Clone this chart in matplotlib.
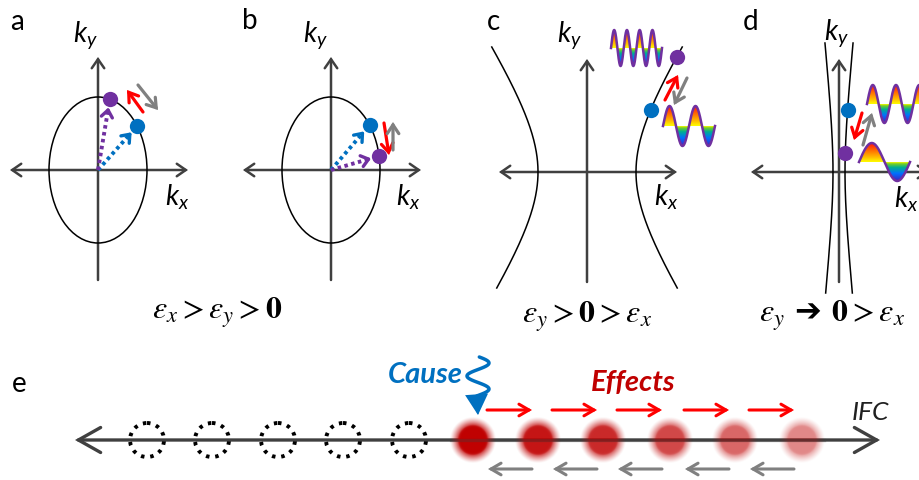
"""
Iso-frequency contours (a-d) and cause/effect sketch along the IFC (e).
Everything is drawn on one axes whose units are figure pixels.
"""
import numpy as np
import matplotlib.pyplot as plt
from matplotlib.patches import Ellipse, FancyArrowPatch, Polygon, Circle
from matplotlib.colors import LinearSegmentedColormap, to_rgb

plt.rcParams['mathtext.fontset'] = 'custom'
plt.rcParams['mathtext.it'] = 'Lato:italic'
plt.rcParams['mathtext.rm'] = 'Lato'

BLUE = '#0070C0'
PURPLE = '#7030A0'
RED = '#FF0000'
GRAY = '#808080'
AXIS = '#404040'
DARKRED = '#C00000'

# ---------------------------------------------------------------------
# Data: panels a-d (local coords: px from the k-space origin, y up)
# ---------------------------------------------------------------------
panel_labels = ['a', 'b', 'c', 'd']
label_x = [10, 242, 487, 743]
label_y = [30, 29, 30, 30]
origin_x = [98, 331, 587, 839]
origin_y = [170, 170, 172, 172]
ky_dx = [-13, -16, -18, -3]
ky_dy = [135, 135, 137, 139]
kx_dx = [79, 77, 79, 67]
kx_dy = [-27, -27, -25, -27]

ell_a, ell_b = 49, 73                 # ellipse semi-axes (a, b)
hyp_a = [49, 6]                       # hyperbolae (c, d)
hyp_b = [75, 61]
hyp_ymin = [-116, -121]
hyp_ymax = [125, 129]

dot_theta = [[37, 76], [38, 11]]      # blue, purple on the ellipse (deg)
dot_ky = [[62, 115], [62, 19]]        # blue, purple on the hyperbola

red_arrows = [(45, 58, 29, 80), (53, 47, 58, 15), (78, 72, 91, 97), (23, 59, 15, 32)]
gray_arrows = [(40, 85, 60, 60), (62, 20, 62, 48), (100, 94, 87, 67), (24, 27, 33, 59)]

wave_panel = [2, 2, 3, 3]
wave_x0 = [24, 76, 28, 20]
wave_yc = [124, 46, 68, 10]
wave_len = [51, 52, 58, 51]
wave_cyc = [4, 2, 2.5, 1]
wave_amp = [18, 20, 19, 19]

eps_text = [r'$\varepsilon_x > \varepsilon_y > \mathbf{0}$',
            r'$\varepsilon_y > \mathbf{0} > \varepsilon_x$',
            r'$\varepsilon_y$ ➔ $\mathbf{0} > \varepsilon_x$']
eps_x = [217, 587, 832]
eps_y = [319, 323, 322]

# ---------------------------------------------------------------------
# Data: panel e
# ---------------------------------------------------------------------
e_y = 440
line_x = (75, 880)
empty_x = [147, 212, 278, 343, 409]
effect_x = [473, 538, 603, 670, 735, 802]
effect_alpha = [1.0, 0.92, 0.84, 0.72, 0.6, 0.47]
forward_y = 410
back_y = 469

wave_cmap = LinearSegmentedColormap.from_list(
    'rb', [(0.0, '#4020c0'), (0.2, '#0070ff'), (0.36, '#00b090'),
           (0.46, '#80d020'), (0.5, '#ffff00'), (0.62, '#ffc000'),
           (0.8, '#ff7000'), (1.0, '#ff1010')])

fig = plt.figure(figsize=(9.2, 4.8), dpi=100)
ax = fig.add_axes([0, 0, 1, 1])


def g(i, x, y):
    return origin_x[i] + x, origin_y[i] - y


def arrow(p0, p1, style, ms, lw, color, z=5):
    ax.add_patch(FancyArrowPatch(p0, p1, arrowstyle=style, mutation_scale=ms,
                                 lw=lw, color=color, shrinkA=0, shrinkB=0,
                                 zorder=z, capstyle='round', joinstyle='miter'))


# ---------------------------------------------------------------------
# Panels a-d
# ---------------------------------------------------------------------
for i in range(4):
    ax.text(label_x[i], label_y[i], panel_labels[i], fontsize=20, family='Lato', va='baseline')
    arrow(g(i, -88, 0), g(i, 90, 0), '<->,head_length=0.65,head_width=0.45', 10, 1.8, AXIS, 2)
    arrow(g(i, 0, -110), g(i, 0, 113), '->,head_length=0.65,head_width=0.45', 10, 1.8, AXIS, 2)
    ax.text(*g(i, ky_dx[i], ky_dy[i]), r'$k_y$', fontsize=20, ha='center', va='center')
    ax.text(*g(i, kx_dx[i], kx_dy[i]), r'$k_x$', fontsize=20, ha='center', va='center')

# ellipses with dotted k-vectors
for i in range(2):
    ax.add_patch(Ellipse((origin_x[i], origin_y[i]), 2 * ell_a, 2 * ell_b,
                         fill=False, ec='black', lw=1.1, zorder=3))
    for th, col in zip(dot_theta[i], [BLUE, PURPLE]):
        dx, dy = ell_a * np.cos(np.radians(th)), ell_b * np.sin(np.radians(th))
        L = np.hypot(dx, dy)
        ux, uy = dx / L, dy / L
        tx, ty = ux * (L - 11), uy * (L - 11)
        x0, y0 = g(i, 0, 0)
        x1, y1 = g(i, tx, ty)
        ax.plot([x0, x1], [y0, y1], color=col, lw=2.8, ls=(0, (0.9, 0.9)),
                dash_capstyle='butt', zorder=4)
        for s in (1, -1):
            a = np.radians(38) * s
            bx = tx - 9 * (ux * np.cos(a) - uy * np.sin(a))
            by = ty - 9 * (ux * np.sin(a) + uy * np.cos(a))
            cx, cy = g(i, bx, by)
            ax.plot([cx, x1], [cy, y1], color=col, lw=2.4, solid_capstyle='round', zorder=4)
        ax.plot(*g(i, dx, dy), 'o', ms=11, color=col, mec='none', zorder=6)

# hyperbolae
for j in range(2):
    i = j + 2
    t = np.linspace(np.arcsinh(hyp_ymin[j] / hyp_b[j]), np.arcsinh(hyp_ymax[j] / hyp_b[j]), 200)
    for s in (1, -1):
        ax.plot(*g(i, s * hyp_a[j] * np.cosh(t), hyp_b[j] * np.sinh(t)),
                color='black', lw=1.1, zorder=3)
    for ky, col in zip(dot_ky[j], [BLUE, PURPLE]):
        kx = hyp_a[j] * np.cosh(np.arcsinh(ky / hyp_b[j]))
        ax.plot(*g(i, kx, ky), 'o', ms=11, color=col, mec='none', zorder=6)

for i in range(4):
    x0, y0, x1, y1 = red_arrows[i]
    arrow(g(i, x0, y0), g(i, x1, y1), '->,head_length=0.45,head_width=0.3', 14, 2.3, RED)
    x0, y0, x1, y1 = gray_arrows[i]
    arrow(g(i, x0, y0), g(i, x1, y1), '->,head_length=0.45,head_width=0.3', 14, 2.3, GRAY)

# rainbow wave icons
grad = np.linspace(0, 1, 256).reshape(-1, 1)
for k in range(len(wave_panel)):
    i = wave_panel[k]
    xs = np.linspace(0, wave_len[k], 300)
    ys = wave_amp[k] * np.sin(2 * np.pi * wave_cyc[k] * xs / wave_len[k])
    gx = origin_x[i] + wave_x0[k] + xs
    gy = origin_y[i] - (wave_yc[k] + ys)
    gyc = origin_y[i] - wave_yc[k]
    poly = Polygon(np.column_stack([np.r_[gx, gx[::-1]], np.r_[gy, np.full_like(gy, gyc)]]),
                   closed=True, fc='none', ec='none')
    ax.add_patch(poly)
    A = wave_amp[k]
    im = ax.imshow(grad, cmap=wave_cmap, aspect='auto', origin='lower',
                   extent=(gx[0], gx[-1], gyc + A, gyc - A), interpolation='bilinear', zorder=3)
    im.set_clip_path(poly)
    ax.plot(gx, gy, color=PURPLE, lw=1.8, zorder=4)

for k in range(3):
    ax.text(eps_x[k], eps_y[k], eps_text[k], ha='center', va='baseline', fontsize=23,
            family='DejaVu Sans', math_fontfamily='stix')

# ---------------------------------------------------------------------
# Panel e
# ---------------------------------------------------------------------
ax.text(12, 392, 'e', fontsize=20, family='Lato', va='baseline')
arrow((line_x[0], e_y), (line_x[1], e_y), '<->,head_length=0.8,head_width=0.45', 20, 2.4, AXIS, 3)

for cx in empty_x:
    ax.add_patch(Circle((cx, e_y), 17, fill=False, ec='black', lw=2.8,
                        ls=(0, (0.9, 1.5)), zorder=5))

R = 27
yy, xx = np.mgrid[-R:R:121j, -R:R:121j]
rr = np.hypot(xx, yy)
core = 1 / (1 + np.exp((rr - 16) / 0.7))
halo = 0.7 * np.clip(1 - (rr - 15.5) / 8, 0, 1) ** 1.3
blob = np.maximum(core, halo)
for cx, al in zip(effect_x, effect_alpha):
    rgba = np.zeros(blob.shape + (4,))
    rgba[..., :3] = to_rgb(DARKRED)
    rgba[..., 3] = blob * al
    ax.imshow(rgba, extent=(cx - R, cx + R, e_y + R, e_y - R), interpolation='bilinear', zorder=4)
ax.plot([effect_x[0] - 22, effect_x[-1] + 22], [e_y, e_y], color=AXIS, lw=2.4, alpha=0.35, zorder=5)

for cx in effect_x[:-1]:
    arrow((cx + 14, forward_y), (cx + 59, forward_y), '->,head_length=0.6,head_width=0.35', 12, 2.2, RED)
    arrow((cx + 59, back_y), (cx + 15, back_y), '->,head_length=0.6,head_width=0.35', 12, 2.2, GRAY)

sy = np.linspace(357, 396, 100)
sx = 478 + 11 * np.sin(2 * np.pi * (sy - 357) / 26 + 0.12)
ax.plot(sx, sy, color=BLUE, lw=2.5, solid_capstyle='round', zorder=5)
arrow((sx[-1], sy[-1]), (478, 415), '-|>,head_length=0.9,head_width=0.5', 14, 1.5, BLUE)

ax.text(463, 375, 'Cause', ha='right', va='center', color=BLUE, fontsize=21,
        family='Lato', style='italic', weight='bold')
ax.text(633, 383, 'Effects', ha='center', va='center', color=DARKRED, fontsize=21,
        family='Lato', style='italic', weight='bold')
ax.text(870, 413, 'IFC', ha='center', va='center', color='#202020', fontsize=19,
        family='Lato', style='italic')

ax.set_xlim(0, 920)
ax.set_ylim(480, 0)
ax.axis('off')
fig.savefig('out.png', dpi=100)
